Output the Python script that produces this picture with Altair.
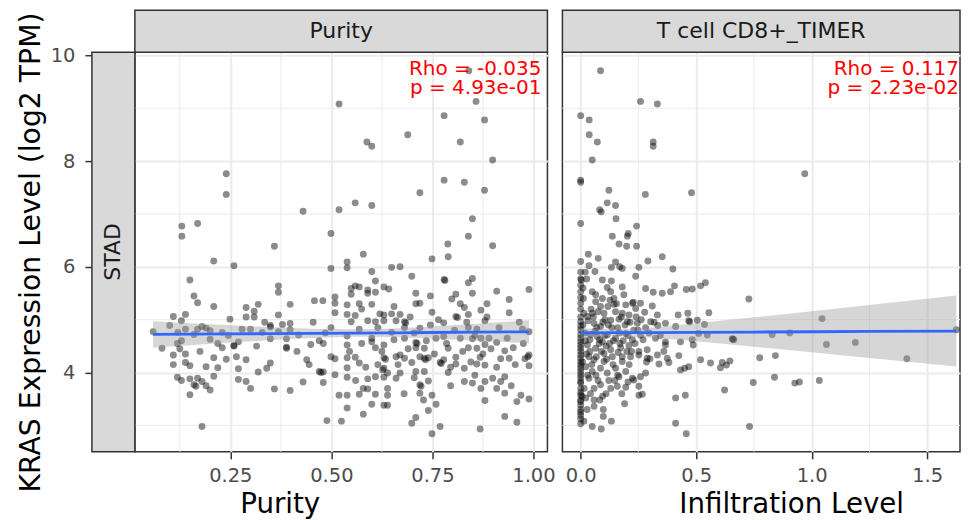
import altair as alt
import pandas as pd

FONT = "DejaVu Sans"

# ---------------- data ----------------
# (purity, KRAS log2 TPM)
purity_points = [
    (0.519, 9.08), (0.240, 7.76), (0.240, 7.37), (0.430, 7.05), (0.519, 7.08), (0.130, 6.77),
    (0.130, 6.58), (0.169, 6.82), (0.499, 6.63), (0.359, 6.39), (0.840, 9.71), (0.858, 9.13),
    (0.779, 8.86), (0.879, 8.78), (0.689, 8.50), (0.588, 8.36), (0.600, 8.28), (0.819, 8.36),
    (0.899, 8.02), (0.779, 7.64), (0.829, 7.60), (0.879, 7.45), (0.719, 7.40), (0.559, 7.21),
    (0.600, 7.16), (0.849, 6.91), (0.839, 6.58), (0.788, 6.43), (0.899, 6.40),
    (0.209, 6.11), (0.259, 6.02), (0.499, 5.97), (0.150, 5.75), (0.369, 5.64), (0.369, 5.52),
    (0.160, 5.45), (0.169, 5.32), (0.209, 5.25), (0.398, 5.29), (0.319, 5.29), (0.289, 5.23),
    (0.309, 5.16), (0.289, 5.05), (0.309, 5.05), (0.458, 5.36), (0.479, 5.36), (0.509, 5.43),
    (0.509, 5.31), (0.509, 5.13), (0.109, 5.06), (0.139, 5.10), (0.129, 4.98), (0.369, 5.09),
    (0.249, 5.01), (0.100, 4.89), (0.059, 4.77), (0.120, 4.76), (0.139, 4.82), (0.169, 4.82),
    (0.180, 4.87), (0.190, 4.84), (0.200, 4.79), (0.160, 4.72), (0.129, 4.60), (0.119, 4.55),
    (0.200, 4.63), (0.219, 4.55), (0.230, 4.47), (0.230, 4.76), (0.081, 4.46), (0.270, 4.58),
    (0.259, 4.51), (0.259, 4.50), (0.279, 4.82), (0.300, 4.82), (0.329, 4.76), (0.349, 4.89),
    (0.349, 4.86), (0.349, 4.64), (0.379, 4.91), (0.398, 4.93), (0.398, 4.81), (0.369, 4.77),
    (0.389, 4.64), (0.389, 4.48), (0.389, 4.46), (0.419, 4.71), (0.449, 4.53), (0.470, 4.60),
    (0.480, 4.55), (0.499, 4.85), (0.109, 4.33), (0.139, 4.35), (0.109, 4.15), (0.139, 4.19),
    (0.150, 4.13), (0.209, 4.28), (0.240, 4.25), (0.190, 4.11), (0.219, 4.09), (0.289, 4.24),
    (0.270, 4.07), (0.349, 4.18), (0.340, 4.08), (0.319, 4.01), (0.439, 4.24), (0.499, 4.30),
    (0.509, 4.26), (0.470, 4.02), (0.474, 4.00), (0.480, 4.01), (0.509, 3.96), (0.119, 3.91),
    (0.129, 3.85), (0.150, 3.88), (0.169, 3.89), (0.160, 3.77), (0.165, 3.74), (0.180, 3.83),
    (0.190, 3.75), (0.200, 3.67), (0.150, 3.58), (0.209, 3.93), (0.270, 3.87), (0.289, 3.83),
    (0.300, 3.70), (0.359, 3.69), (0.398, 3.66), (0.430, 3.82), (0.480, 3.81), (0.519, 3.57),
    (0.489, 3.09), (0.525, 3.08), (0.180, 2.98),
    (0.579, 6.24), (0.539, 6.09), (0.539, 5.98), (0.749, 6.15), (0.789, 6.19), (0.649, 5.99),
    (0.670, 6.00), (0.600, 5.91), (0.699, 5.82), (0.779, 5.76), (0.781, 5.74), (0.839, 5.70),
    (0.849, 5.78), (0.609, 5.73), (0.630, 5.62), (0.642, 5.58), (0.559, 5.64), (0.549, 5.59),
    (0.569, 5.62), (0.549, 5.48), (0.590, 5.56), (0.590, 5.50), (0.609, 5.52), (0.709, 5.50),
    (0.808, 5.48), (0.849, 5.50), (0.909, 5.54), (0.989, 5.57), (0.539, 5.28), (0.569, 5.30),
    (0.600, 5.29), (0.709, 5.30), (0.719, 5.31), (0.798, 5.39), (0.819, 5.30), (0.829, 5.23),
    (0.940, 5.38), (0.539, 5.10), (0.559, 5.08), (0.620, 5.11), (0.630, 5.09), (0.649, 5.11),
    (0.670, 5.10), (0.749, 5.14), (0.808, 5.06), (0.812, 5.04), (0.839, 5.10), (0.870, 5.18),
    (0.940, 5.13), (0.549, 4.96), (0.590, 4.98), (0.609, 4.96), (0.630, 4.98), (0.660, 4.98),
    (0.681, 4.96), (0.684, 4.94), (0.778, 4.94), (0.880, 4.98), (0.569, 4.82), (0.649, 4.76),
    (0.681, 4.85), (0.719, 4.84), (0.839, 4.85), (0.860, 4.82), (0.973, 4.82), (0.989, 4.77),
    (0.539, 4.69), (0.600, 4.65), (0.681, 4.65), (0.759, 4.65), (0.778, 4.68), (0.819, 4.65),
    (0.849, 4.64), (0.870, 4.65), (0.890, 4.65), (0.539, 4.52), (0.600, 4.58), (0.609, 4.47),
    (0.630, 4.52), (0.709, 4.57), (0.712, 4.55), (0.709, 4.47), (0.730, 4.46), (0.789, 4.46),
    (0.839, 4.47), (0.860, 4.46), (0.880, 4.53), (0.909, 4.57), (0.929, 4.41), (0.950, 4.47),
    (0.539, 4.28), (0.559, 4.29), (0.569, 4.18), (0.630, 4.28), (0.634, 4.25), (0.660, 4.30),
    (0.670, 4.33), (0.681, 4.27), (0.699, 4.19), (0.719, 4.30), (0.730, 4.27), (0.733, 4.24),
    (0.740, 4.28), (0.769, 4.19), (0.772, 4.17), (0.778, 4.24), (0.808, 4.29), (0.808, 4.16),
    (0.868, 4.29), (0.919, 4.26), (0.940, 4.27), (0.979, 4.26), (0.989, 4.33), (0.986, 4.30),
    (0.539, 4.09), (0.630, 4.08), (0.627, 4.05), (0.639, 3.99), (0.670, 3.99), (0.709, 4.02),
    (0.730, 4.02), (0.789, 4.00), (0.829, 4.08), (0.860, 4.16), (0.880, 4.14), (0.909, 4.10),
    (0.989, 4.13), (0.539, 3.91), (0.590, 3.88), (0.609, 3.92), (0.630, 3.91), (0.660, 3.89),
    (0.719, 3.77), (0.722, 3.74), (0.740, 3.84), (0.829, 3.83), (0.849, 3.80), (0.880, 3.83),
    (0.899, 3.89), (0.929, 3.92), (0.919, 3.83), (0.579, 3.70), (0.590, 3.69), (0.639, 3.70),
    (0.870, 3.70), (0.909, 3.70), (0.539, 3.57), (0.569, 3.59), (0.609, 3.59), (0.639, 3.57),
    (0.719, 3.61), (0.749, 3.57), (0.929, 3.61), (0.969, 3.57), (0.728, 3.48), (0.759, 3.40),
    (0.880, 3.47), (0.959, 3.45), (0.989, 3.50), (0.539, 3.33), (0.600, 3.40), (0.630, 3.38),
    (0.639, 3.38), (0.740, 3.28), (0.579, 3.21), (0.929, 3.17), (0.709, 3.15), (0.699, 3.04),
    (0.959, 3.06), (0.769, 2.98), (0.749, 2.84), (0.868, 2.93),
    (0.545, 4.40), (0.575, 4.55), (0.585, 4.10), (0.615, 4.85), (0.625, 4.40), (0.655, 4.62),
    (0.665, 4.15), (0.690, 4.45), (0.695, 5.05), (0.705, 4.75), (0.735, 4.60), (0.745, 4.90),
    (0.755, 4.35), (0.765, 5.00), (0.785, 4.55), (0.795, 4.10), (0.805, 4.80), (0.825, 4.40),
    (0.835, 4.95), (0.845, 4.20), (0.855, 4.70), (0.875, 4.35), (0.885, 5.05), (0.895, 4.45),
    (0.915, 4.85), (0.935, 4.65), (0.955, 4.15), (0.965, 4.95), (0.975, 4.55), (0.575, 5.20),
    (0.655, 5.25), (0.745, 5.45), (0.885, 5.30), (0.615, 4.15), (0.705, 3.90), (0.795, 3.75),
    (0.855, 3.95), (0.945, 3.75), (0.560, 3.85), (0.680, 3.60), (0.125, 4.45), (0.175, 4.40),
    (0.245, 4.70), (0.315, 4.50), (0.335, 4.95), (0.415, 4.40), (0.455, 4.95), (0.485, 4.75),
    (0.265, 4.30), (0.445, 4.15),
]

# (CD8+ T cell infiltration, KRAS log2 TPM)
cd8_points = [
    (0.086, 9.71), (0.259, 9.13), (0.332, 9.08), (0.000, 8.86), (0.037, 8.78), (0.037, 8.50),
    (0.072, 8.36), (0.314, 8.36), (0.314, 8.28), (0.050, 8.02), (0.970, 7.76), (0.000, 7.64),
    (0.000, 7.60), (0.122, 7.45), (0.280, 7.37), (0.480, 7.40), (0.115, 7.21), (0.151, 7.16),
    (0.082, 7.08), (0.089, 7.04), (0.153, 6.91), (0.000, 6.82), (0.242, 6.77), (0.137, 6.58),
    (0.206, 6.63), (0.202, 6.58), (0.166, 6.43), (0.199, 6.39), (0.242, 6.39),
    (0.033, 6.24), (0.076, 6.16), (0.353, 6.19), (0.291, 6.11), (0.036, 6.02), (0.062, 5.91),
    (0.133, 5.99), (0.151, 6.09), (0.169, 6.00), (0.180, 5.97), (0.252, 5.99), (0.399, 5.96),
    (0.238, 5.82), (0.000, 5.77), (0.003, 5.75), (0.026, 5.77), (0.094, 5.75), (0.133, 5.73),
    (0.000, 5.53), (0.050, 5.53), (0.065, 5.47), (0.115, 5.61), (0.130, 5.53), (0.180, 5.62),
    (0.187, 5.47), (0.281, 5.59), (0.314, 5.52), (0.353, 5.50), (0.389, 5.53), (0.406, 5.64),
    (0.457, 5.57), (0.483, 5.58), (0.519, 5.64), (0.540, 5.70), (0.000, 5.31), (0.065, 5.34),
    (0.094, 5.40), (0.127, 5.37), (0.144, 5.40), (0.144, 5.29), (0.086, 5.25), (0.195, 5.28),
    (0.224, 5.31), (0.228, 5.33), (0.259, 5.31), (0.310, 5.26), (0.238, 5.21), (0.277, 5.14),
    (0.332, 5.09), (0.422, 5.09), (0.464, 5.12), (0.468, 4.98), (0.472, 4.96), (0.505, 4.99),
    (0.555, 5.13), (0.014, 5.12), (0.029, 5.06), (0.050, 5.12), (0.101, 5.12), (0.151, 5.15),
    (0.180, 5.12), (0.209, 5.09), (0.130, 4.99), (0.166, 5.01), (0.202, 4.96), (0.245, 4.93),
    (0.303, 4.96), (0.334, 4.89), (0.367, 4.93), (0.000, 4.96), (0.058, 4.93), (0.086, 4.87),
    (0.281, 4.85), (0.411, 4.87), (0.536, 4.91), (0.548, 4.71), (0.511, 4.74), (0.663, 4.62),
    (0.656, 4.64), (0.000, 4.81), (0.000, 4.65), (0.043, 4.72), (0.072, 4.68), (0.115, 4.71),
    (0.151, 4.65), (0.195, 4.74), (0.224, 4.62), (0.259, 4.71), (0.324, 4.65), (0.367, 4.58),
    (0.367, 4.52), (0.432, 4.58), (0.483, 4.62), (0.487, 4.52), (0.029, 4.52), (0.065, 4.46),
    (0.094, 4.58), (0.130, 4.43), (0.173, 4.47), (0.209, 4.51), (0.252, 4.40), (0.288, 4.43),
    (0.332, 4.33), (0.288, 4.27), (0.375, 4.27), (0.382, 4.19), (0.425, 4.32), (0.519, 4.24),
    (0.562, 4.18), (0.613, 4.19), (0.646, 4.22), (0.605, 4.09), (0.631, 4.14), (0.775, 4.28),
    (0.728, 5.39), (0.000, 4.27), (0.000, 4.40), (0.036, 4.30), (0.058, 4.24), (0.101, 4.36),
    (0.101, 4.21), (0.137, 4.30), (0.180, 4.30), (0.180, 4.21), (0.216, 4.30), (0.252, 4.33),
    (0.300, 4.26), (0.339, 4.16), (0.432, 4.05), (0.450, 4.08), (0.468, 4.11), (0.000, 4.08),
    (0.022, 4.11), (0.050, 4.02), (0.086, 4.08), (0.115, 3.99), (0.151, 4.08), (0.166, 3.92),
    (0.195, 4.02), (0.224, 3.89), (0.259, 3.92), (0.281, 3.99), (0.000, 3.83), (0.000, 3.80),
    (0.000, 3.70), (0.000, 3.57), (0.000, 3.38), (0.000, 3.19), (0.036, 3.89), (0.058, 3.70),
    (0.086, 3.77), (0.130, 3.70), (0.159, 3.74), (0.195, 3.72), (0.230, 3.86), (0.252, 3.74),
    (0.252, 3.57), (0.267, 3.59), (0.022, 3.52), (0.058, 3.48), (0.083, 3.48), (0.058, 3.36),
    (0.098, 3.30), (0.098, 3.17), (0.014, 3.08), (0.050, 2.98), (0.089, 2.93), (0.133, 3.08),
    (0.190, 3.41), (0.411, 3.52), (0.453, 3.57), (0.411, 3.04), (0.457, 2.84), (0.623, 3.67),
    (0.747, 3.81), (0.731, 2.98), (0.659, 4.63),
    (1.045, 5.02), (0.829, 4.72), (0.905, 4.75), (1.064, 4.53), (1.189, 4.57), (1.412, 4.26),
    (1.626, 4.81), (0.843, 4.32), (0.839, 3.91), (0.927, 3.80), (0.947, 3.82), (1.033, 3.85),
    (0.000, 5.65), (0.000, 5.42), (0.000, 5.20), (0.000, 5.05), (0.000, 4.88), (0.000, 4.72),
    (0.000, 4.58), (0.000, 4.46), (0.000, 4.33), (0.000, 4.20), (0.000, 4.14), (0.000, 3.96),
    (0.000, 3.90), (0.000, 3.62), (0.000, 3.48), (0.000, 3.30), (0.000, 3.12), (0.000, 3.45),
    (0.000, 4.02), (0.000, 4.52), (0.000, 5.90), (0.000, 6.10), (0.000, 3.25), (0.000, 3.03),
    (0.010, 4.90), (0.020, 4.60), (0.040, 4.40), (0.070, 4.85), (0.080, 4.55), (0.110, 4.50),
    (0.120, 4.90), (0.160, 4.85), (0.170, 4.55), (0.200, 4.40), (0.230, 4.80), (0.240, 5.05),
    (0.105, 5.00), (0.045, 5.20), (0.140, 4.15), (0.210, 4.15), (0.030, 3.95), (0.075, 3.85),
    (0.110, 3.60), (0.160, 3.95),
    (0.012, 5.40), (0.018, 4.75), (0.025, 4.35), (0.032, 4.98), (0.040, 4.62), (0.048, 4.15),
    (0.055, 5.05), (0.062, 4.78), (0.068, 4.30), (0.075, 5.15), (0.082, 4.62), (0.090, 4.40),
    (0.096, 4.95), (0.104, 4.70), (0.112, 4.25), (0.118, 5.25), (0.125, 4.55), (0.135, 4.85),
    (0.142, 4.60), (0.148, 3.85), (0.155, 5.30), (0.162, 4.38), (0.168, 4.75), (0.176, 5.05),
    (0.184, 4.60), (0.192, 4.90), (0.205, 4.70), (0.214, 4.95), (0.220, 4.40), (0.235, 4.55),
    (0.248, 4.80), (0.262, 5.00), (0.270, 4.62), (0.285, 4.20), (0.296, 4.75), (0.318, 4.95),
    (0.345, 4.70), (0.360, 4.40), (0.015, 3.70), (0.028, 3.30), (0.042, 3.60), (0.066, 3.95),
    (0.095, 3.55), (0.122, 3.85), (0.178, 3.60), (0.205, 3.82), (0.008, 4.20), (0.006, 3.55),
    (0.010, 5.60), (0.020, 5.90),
]

# fitted line and 95% band
purity_fit_x = [0.059, 0.15, 0.25, 0.35, 0.45, 0.56, 0.65, 0.75, 0.85, 0.989]
purity_fit_y = [4.720, 4.725, 4.730, 4.736, 4.741, 4.747, 4.752, 4.757, 4.763, 4.770]
purity_fit_lo = [4.470, 4.516, 4.566, 4.613, 4.653, 4.677, 4.670, 4.642, 4.607, 4.553]
purity_fit_hi = [4.970, 4.934, 4.894, 4.859, 4.829, 4.817, 4.834, 4.872, 4.919, 4.987]

cd8_fit_x = [0.0, 0.15, 0.3, 0.5, 0.75, 1.0, 1.25, 1.626]
cd8_fit_y = [4.750, 4.753, 4.756, 4.761, 4.766, 4.771, 4.777, 4.785]
cd8_fit_lo = [4.657, 4.690, 4.663, 4.591, 4.488, 4.382, 4.276, 4.115]
cd8_fit_hi = [4.843, 4.816, 4.849, 4.931, 5.044, 5.160, 5.278, 5.455]

y_ticks = [4, 6, 8, 10]
y_minor = [3, 5, 7, 9]
purity_ticks = [0.25, 0.5, 0.75, 1.0]
purity_minor = [0.125, 0.375, 0.625, 0.875]
cd8_ticks = [0.0, 0.5, 1.0, 1.5]
cd8_minor = [0.25, 0.75, 1.25]

strip_titles = ["Purity", "T cell CD8+_TIMER"]
x_titles = ["Purity", "Infiltration Level"]
rho_texts = [["Rho = -0.035", "p = 4.93e-01"], ["Rho = 0.117", "p = 2.23e-02"]]
row_label = "STAD"
y_title = "KRAS Expression Level (log2 TPM)"

# ---------------- layout constants ----------------
Y_DOMAIN = [2.50, 10.06]
H = 400
W1 = 413
W2 = 398
STRIP_W = 43      # width of the row strip on the left
STRIP_H = 42      # height of the column strips on top
GRID = "#ebebeb"
DARK = "#333333"


def panel(points, fx, fy, flo, fhi, xdom, xticks, xminor, xfmt, xtitle, title_x,
          strip_text, rho, width, left, rho_right):
    pts = pd.DataFrame(points, columns=["x", "y"])
    fit = pd.DataFrame({"x": fx, "y": fy, "lo": flo, "hi": fhi})
    xs = alt.Scale(domain=xdom, nice=False, zero=False)
    ys = alt.Scale(domain=Y_DOMAIN, nice=False, zero=False)

    if left:
        yaxis = alt.Axis(values=y_ticks, format="d", title=y_title, offset=STRIP_W,
                         tickSize=7, tickColor=DARK, tickWidth=1.5,
                         labelFontSize=19.5, labelColor="#4d4d4d", labelPadding=10,
                         labelFont=FONT, titleFont=FONT, titleFontSize=28.3,
                         titleFontWeight="normal", titleColor="#000000", titleAngle=270,
                         titleX=-52, titleY=200, titleAlign="center",
                         titleBaseline="alphabetic", domain=False,
                         grid=True, gridColor=GRID, gridWidth=2)
    else:
        yaxis = alt.Axis(values=y_ticks, labels=False, ticks=False, domain=False,
                         title=None, grid=True, gridColor=GRID, gridWidth=2)

    xaxis = alt.Axis(values=xticks, format=xfmt, title=xtitle,
                     tickSize=7, tickColor=DARK, tickWidth=1.5,
                     labelFontSize=19.5, labelColor="#4d4d4d", labelPadding=8,
                     labelFont=FONT, labelFlush=False, labelOverlap=False,
                     titleFont=FONT, titleFontSize=27.7, titleFontWeight="normal",
                     titleColor="#000000", titleX=title_x, titleY=61,
                     titleAlign="center", titleBaseline="alphabetic", domain=False,
                     grid=True, gridColor=GRID, gridWidth=2)

    X = alt.X("x:Q", scale=xs, axis=xaxis)
    Y = alt.Y("y:Q", scale=ys, axis=yaxis)

    minor_h = alt.Chart(pd.DataFrame({"y": y_minor})).mark_rule(
        color=GRID, strokeWidth=1).encode(y=Y)
    minor_v = alt.Chart(pd.DataFrame({"x": xminor})).mark_rule(
        color=GRID, strokeWidth=1).encode(x=X)

    dots = alt.Chart(pts).mark_circle(size=48, color="#000000", opacity=0.45).encode(x=X, y=Y)
    band = alt.Chart(fit).mark_area(color="#999999", opacity=0.4).encode(
        x=X, y=alt.Y("lo:Q", scale=ys, axis=yaxis), y2="hi:Q")
    line = alt.Chart(fit).mark_line(color="#3366FF", strokeWidth=2.8).encode(x=X, y=Y)

    txt1 = alt.Chart(pd.DataFrame({"t": [rho[0]]})).mark_text(
        align="right", baseline="alphabetic", color="#ff0000", fontSize=20, font=FONT
    ).encode(text="t:N", x=alt.value(width - rho_right), y=alt.value(22.7))
    txt2 = alt.Chart(pd.DataFrame({"t": [rho[1]]})).mark_text(
        align="right", baseline="alphabetic", color="#ff0000", fontSize=20, font=FONT
    ).encode(text="t:N", x=alt.value(width - rho_right), y=alt.value(41.7))

    sdf = pd.DataFrame({"t": [strip_text]})
    strip_box = alt.Chart(sdf).mark_rect(fill="#d9d9d9", stroke=DARK, strokeWidth=1.5).encode(
        x=alt.value(0), x2=alt.value(width), y=alt.value(-STRIP_H), y2=alt.value(0))
    strip_txt = alt.Chart(sdf).mark_text(
        fontSize=22, color="#1a1a1a", font=FONT, baseline="middle", align="center"
    ).encode(text="t:N", x=alt.value(width / 2), y=alt.value(-STRIP_H / 2))

    layers = [minor_h, minor_v, dots, band, line, txt1, txt2, strip_box, strip_txt]

    if left:
        rdf = pd.DataFrame({"t": [row_label]})
        row_box = alt.Chart(rdf).mark_rect(fill="#d9d9d9", stroke=DARK, strokeWidth=1.5).encode(
            x=alt.value(-STRIP_W), x2=alt.value(0), y=alt.value(0), y2=alt.value(H))
        row_txt = alt.Chart(rdf).mark_text(
            fontSize=22, color="#1a1a1a", font=FONT, baseline="middle", align="center", angle=270
        ).encode(text="t:N", x=alt.value(-STRIP_W / 2), y=alt.value(H / 2))
        layers += [row_box, row_txt]

    return alt.layer(*layers).properties(width=width, height=H)


left_panel = panel(purity_points, purity_fit_x, purity_fit_y, purity_fit_lo, purity_fit_hi,
                   [0.0138, 1.0346], purity_ticks, purity_minor, ".2f", x_titles[0], 145,
                   strip_titles[0], rho_texts[0], W1, True, 6)
right_panel = panel(cd8_points, cd8_fit_x, cd8_fit_y, cd8_fit_lo, cd8_fit_hi,
                    [-0.079, 1.642], cd8_ticks, cd8_minor, ".1f", x_titles[1], 229,
                    strip_titles[1], rho_texts[1], W2, False, 1)

chart = alt.hconcat(left_panel, right_panel, spacing=15, bounds="flush").properties(
    padding={"left": 8, "top": 0, "right": 0, "bottom": 0}
).configure_view(stroke=DARK, strokeWidth=1.5)

chart.save("out.html", embed_options={"renderer": "svg", "actions": False})
